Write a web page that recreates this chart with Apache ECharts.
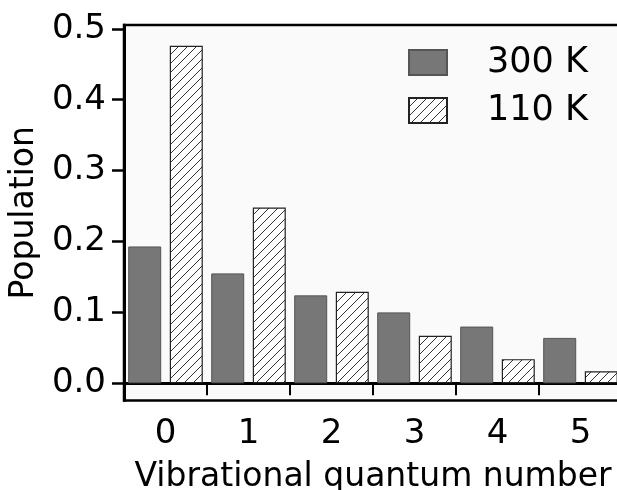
<!DOCTYPE html>
<html>
<head>
<meta charset="utf-8">
<script src="https://cdn.jsdelivr.net/npm/echarts@6/dist/echarts.min.js"></script>
<style>
  html, body { margin: 0; padding: 0; background: #ffffff; }
  #chart { width: 617px; height: 490px; }
</style>
</head>
<body>
<div id="chart"></div>
<script>
// Vibrational level populations at two temperatures
const levels = ['0', '1', '2', '3', '4', '5'];
const pop300K = [0.193, 0.155, 0.124, 0.100, 0.080, 0.064];
const pop110K = [0.476, 0.248, 0.129, 0.067, 0.034, 0.017];
const yTicks = [0.0, 0.1, 0.2, 0.3, 0.4, 0.5];
const seriesNames = ['300 K', '110 K'];

const FONT = 'DejaVu Sans';

// Diagonal hatch tile for the 110 K bars
function hatchTile() {
  const s = 9;
  const c = document.createElement('canvas');
  c.width = s; c.height = s;
  const g = c.getContext('2d');
  g.fillStyle = '#ffffff';
  g.fillRect(0, 0, s, s);
  g.strokeStyle = '#333333';
  g.lineWidth = 1;
  g.beginPath();
  g.moveTo(-1, s + 1); g.lineTo(s + 1, -1);
  g.moveTo(-1, 1); g.lineTo(1, -1);
  g.moveTo(s - 1, s + 1); g.lineTo(s + 1, s - 1);
  g.stroke();
  return c;
}
const hatch = { image: hatchTile(), repeat: 'repeat' };

const chart = echarts.init(document.getElementById('chart'), null, { renderer: 'canvas' });

chart.setOption({
  animation: false,
  textStyle: { fontFamily: FONT, color: '#000' },
  grid: {
    left: 124, right: -5, top: 25, bottom: 89.5,
    outerBoundsMode: 'none',
    containLabel: false,
    show: true, backgroundColor: '#fafafa',
    borderColor: '#000', borderWidth: 2.5
  },
  legend: {
    left: 408, top: 45, padding: 0,
    orient: 'vertical',
    icon: 'rect',
    itemWidth: 38, itemHeight: 25, itemGap: 13,
    data: seriesNames,
    textStyle: { fontFamily: FONT, fontSize: 35, color: '#000', lineHeight: 25, padding: [0, 0, 0, 35] }
  },
  xAxis: {
    type: 'category',
    data: levels,
    name: 'Vibrational quantum number',
    nameLocation: 'middle',
    nameGap: 60,
    nameTextStyle: { fontFamily: FONT, fontSize: 33, color: '#000' },
    axisLine: { lineStyle: { color: '#000', width: 3 } },
    axisTick: {
      show: true, inside: false, length: 12,
      lineStyle: { color: '#000', width: 2 },
      interval: function (index) { return index !== 0; }
    },
    axisLabel: { fontFamily: FONT, fontSize: 34, color: '#000', margin: 17 },
    splitLine: { show: false }
  },
  yAxis: {
    type: 'value',
    min: -0.0243, max: 0.5054,
    name: 'Population',
    nameLocation: 'middle',
    nameGap: 77,
    nameTextStyle: { fontFamily: FONT, fontSize: 33, color: '#000' },
    axisLine: { show: true, lineStyle: { color: '#000', width: 3 } },
    axisTick: {
      show: true, length: 12, customValues: yTicks,
      lineStyle: { color: '#000', width: 2.5 }
    },
    axisLabel: {
      fontFamily: FONT, fontSize: 34, color: '#000', margin: 18,
      customValues: yTicks,
      formatter: function (v) { return v.toFixed(1); }
    },
    splitLine: { show: false }
  },
  series: [
    {
      name: seriesNames[0],
      type: 'bar',
      data: pop300K,
      barWidth: 33,
      barGap: '26%',
      itemStyle: { color: '#777777', borderColor: '#555555', borderWidth: 1 },
      markLine: {
        silent: true,
        symbol: 'none',
        label: { show: false },
        lineStyle: { color: '#000', width: 1.5, type: 'solid' },
        data: [{ yAxis: 0 }],
        z: 1
      }
    },
    {
      name: seriesNames[1],
      type: 'bar',
      data: pop110K,
      barWidth: 33,
      barGap: '26%',
      itemStyle: { color: hatch, borderColor: '#222222', borderWidth: 1.2 }
    }
  ]
});
</script>
</body>
</html>
